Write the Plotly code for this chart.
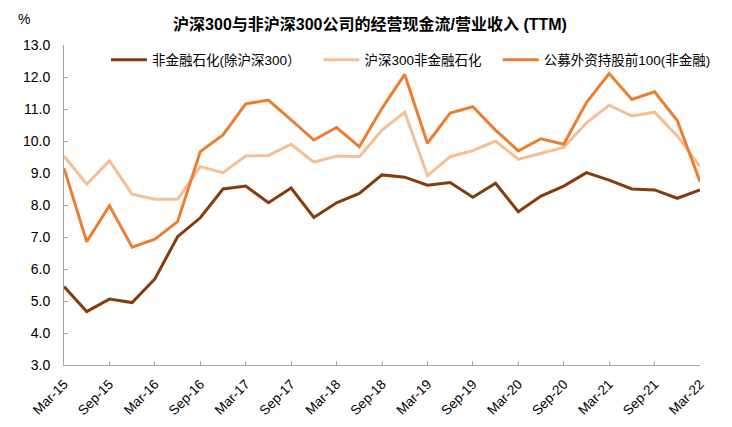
import plotly.graph_objects as go

quarters = ["Mar-15","Jun-15","Sep-15","Dec-15","Mar-16","Jun-16","Sep-16","Dec-16",
            "Mar-17","Jun-17","Sep-17","Dec-17","Mar-18","Jun-18","Sep-18","Dec-18",
            "Mar-19","Jun-19","Sep-19","Dec-19","Mar-20","Jun-20","Sep-20","Dec-20",
            "Mar-21","Jun-21","Sep-21","Dec-21","Mar-22"]

non_fin_ex300 = [5.45,4.67,5.06,4.95,5.69,7.01,7.60,8.50,8.59,8.07,8.53,7.61,8.07,8.36,
                 8.94,8.87,8.62,8.70,8.24,8.68,7.79,8.28,8.59,9.01,8.78,8.50,8.47,8.21,8.47]
hs300_non_fin = [9.53,8.65,9.38,8.34,8.18,8.18,9.20,9.01,9.53,9.55,9.90,9.34,9.53,9.51,
                 10.34,10.90,8.92,9.51,9.70,10.00,9.43,9.62,9.80,10.57,11.12,10.78,10.90,10.16,9.20]
top100_foreign = [9.15,6.85,7.98,6.68,6.93,7.48,9.67,10.19,11.16,11.28,10.66,10.03,10.42,9.82,
                  11.02,12.08,9.93,10.87,11.07,10.34,9.69,10.07,9.90,11.20,12.11,11.30,11.54,10.64,8.73]

names = ["非金融石化(除沪深300）", "沪深300非金融石化", "公募外资持股前100(非金融)"]
colors = ["#843C0C", "#F7BE94", "#ED7D31"]
series = [non_fin_ex300, hs300_non_fin, top100_foreign]
legend_ids = ["legend", "legend2", "legend3"]
legend_x = [0.066, 0.40, 0.682]

x_idx = list(range(len(quarters)))
fig = go.Figure()
for nm, c, s, lg in zip(names, colors, series, legend_ids):
    fig.add_trace(go.Scatter(x=x_idx, y=s, mode="lines", name=nm, legend=lg,
                             line=dict(color=c, width=3)))

tickvals = x_idx[::2]
ticktext = quarters[::2]

font_fam = "Liberation Sans, Noto Sans CJK SC, sans-serif"
legend_common = dict(orientation="h", y=0.953, xanchor="left", yanchor="middle",
                     font=dict(size=13.5, family=font_fam), bgcolor="rgba(0,0,0,0)",
                     itemwidth=36)
layout_legends = {}
for lg, lx in zip(legend_ids, legend_x):
    d = dict(legend_common)
    d["x"] = lx
    layout_legends[lg] = d

fig.update_layout(
    width=716, height=411,
    margin=dict(l=56, r=24, t=37, b=54, autoexpand=False),
    paper_bgcolor="white", plot_bgcolor="white",
    font=dict(family=font_fam, size=13, color="black"),
    title=dict(text="<b>沪深300与非沪深300公司的经营现金流/营业收入 (TTM)</b>",
               x=0.5056, xanchor="center", y=0.961, yanchor="middle",
               font=dict(size=16, family=font_fam)),
    showlegend=True,
    xaxis=dict(range=[0, 28], tickvals=tickvals, ticktext=ticktext, tickangle=-45,
               showgrid=False, zeroline=False, showline=True, linecolor="#A6A6A6",
               linewidth=1, ticks="inside", tickcolor="#A6A6A6", ticklen=4,
               tickfont=dict(size=13.5), ticklabelstandoff=5, automargin=False),
    yaxis=dict(range=[3, 13], dtick=1, tickformat=".1f", showgrid=False, zeroline=False,
               showline=True, linecolor="#A6A6A6", linewidth=1, ticks="inside",
               tickcolor="#A6A6A6", ticklen=4, tickfont=dict(size=14),
               ticklabelstandoff=10, automargin=False),
    **layout_legends,
)
fig.add_annotation(text="%", xref="paper", yref="paper", x=-0.063, y=1.081,
                   xanchor="center", yanchor="middle", showarrow=False,
                   font=dict(size=14, family=font_fam))
fig.write_html("out.html")
